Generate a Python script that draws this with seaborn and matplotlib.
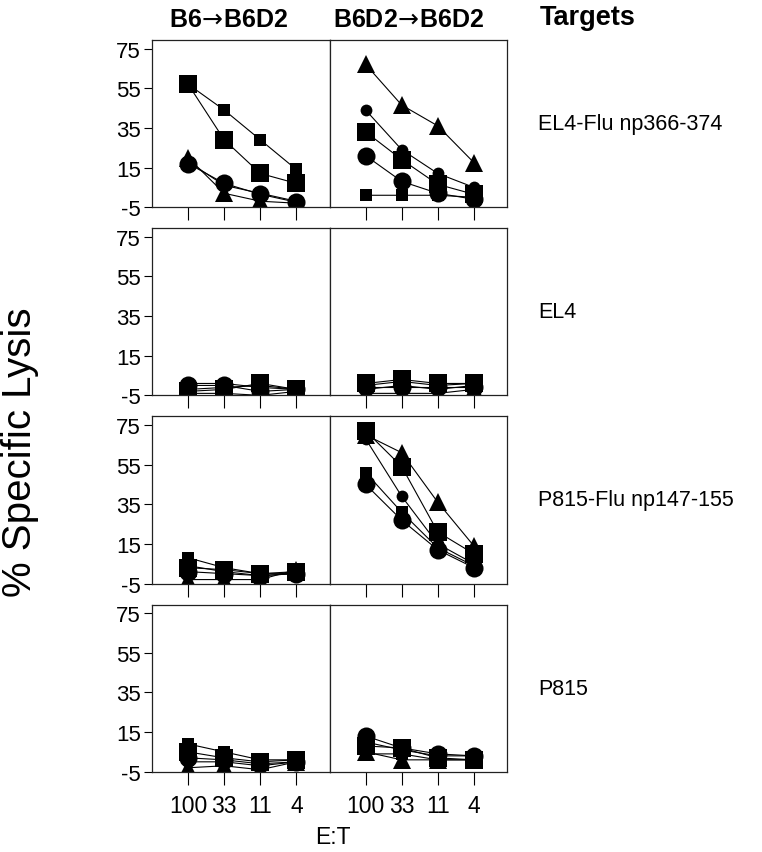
import numpy as np
import pandas as pd
import matplotlib.pyplot as plt
import seaborn as sns

# E:T ratios, donor groups and target cells
et_labels = ['100', '33', '11', '4']
groups = ['B6\u2192B6D2', 'B6D2\u2192B6D2']
targets = ['EL4-Flu np366-374', 'EL4', 'P815-Flu np147-155', 'P815']
series = ['big square', 'small square', 'big circle', 'small circle', 'triangle']

# % specific lysis, rows follow `series`, columns follow et_labels
el4flu_b6 = np.array([[57, 29, 12, 7], [57, 44, 29, 14], [17, 7, 1.5, -2.5],
                      [18, 6, 2, -2], [20, 2, -2, -3]])
el4flu_b6d2 = np.array([[33, 19, 6.5, 1.5], [1, 1, 1, 0], [21, 8, 2, -1],
                        [44, 24, 12, 5], [67, 46.5, 36, 17.5]])
el4_b6 = np.array([[-3, -2, 1, -2], [-2, -1, 0, -2], [0, 0, -3, -2],
                   [1, 1, -1, -2], [-4, -4, -5, -3]])
el4_b6d2 = np.array([[1, 3, 1, 1], [0, 2, 0, 1], [-1, -1, -1, -1],
                     [-2, 0, -2, 0], [-4, -4, -4, -2]])
p815flu_b6 = np.array([[3, 2, 0, 1], [8, 3, 0, 0], [1, 0, -1, 0],
                       [4, 1, -1, 0], [-3, -3, -3, 2]])
p815flu_b6d2 = np.array([[72, 54, 21, 10], [51, 31, 13, 4], [45, 27, 12, 3],
                         [68, 39, 15, 5], [70, 61, 36, 14]])
p815_b6 = np.array([[5, 2, 0, 1], [9, 5, 1, 1], [2, 1, -1, 0],
                    [0, 0, -2, 0], [-3, -2, -4, 0]])
p815_b6d2 = np.array([[8, 7, 2, 1], [4, 4, 1, 1], [13, 7, 4, 3],
                      [10, 6, 3, 3], [5, 1, 1, 1]])

panels = [[el4flu_b6, el4flu_b6d2], [el4_b6, el4_b6d2],
          [p815flu_b6, p815flu_b6d2], [p815_b6, p815_b6d2]]

rows = []
for ti, t in enumerate(targets):
    for gi, g in enumerate(groups):
        for si, s in enumerate(series):
            for ei in range(len(et_labels)):
                rows.append(dict(target=t, group=g, series=s, et=ei,
                                 lysis=panels[ti][gi][si, ei]))
df = pd.DataFrame(rows)

# marker shape / size for each series
marker_style = {
    'big square': ('s', 13),
    'small square': ('s', 9),
    'big circle': ('o', 13),
    'small circle': ('o', 8.5),
    'triangle': ('^', 13),
}

sns.set_style('ticks')
plt.rcParams['font.family'] = ['Liberation Sans', 'DejaVu Sans']
plt.rcParams['axes.unicode_minus'] = False
for key in ['text.color', 'axes.labelcolor', 'xtick.color', 'ytick.color']:
    plt.rcParams[key] = 'black'

fig, axes = plt.subplots(4, 2, figsize=(7.62, 8.53), dpi=100,
                         gridspec_kw=dict(left=0.1995, right=0.6654, top=0.9519,
                                          bottom=0.0941, hspace=0.126, wspace=0))

for ti, t in enumerate(targets):
    for gi, g in enumerate(groups):
        ax = axes[ti, gi]
        sub = df[(df.target == t) & (df.group == g)]
        for s in series:
            m, ms = marker_style[s]
            sns.lineplot(data=sub[sub.series == s], x='et', y='lysis', ax=ax,
                         color='black', lw=0.8, marker=m, markersize=ms,
                         markeredgewidth=0, estimator=None, sort=False, legend=False)
        ax.set_xlim(-1.0, 3.92)
        ax.set_ylim(-5, 79.3)
        ax.set_xticks(range(len(et_labels)))
        ax.set_xticklabels(et_labels)
        ax.set_yticks([-5, 15, 35, 55, 75])
        ax.set_xlabel('')
        ax.set_ylabel('')
        for sp in ax.spines.values():
            sp.set_visible(True)
            sp.set_linewidth(0.9)
            sp.set_color('#222222')
        ax.tick_params(axis='x', direction='out', length=9, width=0.8,
                       labelsize=16.5, pad=7, labelbottom=(ti == 3))
        if gi == 0:
            ax.tick_params(axis='y', direction='out', length=6, width=0.8,
                           labelsize=16, pad=2)
        else:
            ax.tick_params(axis='y', left=False, labelleft=False)

        if gi == 1:
            pos = ax.get_position()
            fig.text(0.706, (pos.y0 + pos.y1) / 2, t, fontsize=15.5,
                     ha='left', va='center')

# column headers (mathtext arrow so it is drawn full size)
headers = [g.replace('\u2192', r'$\!\rightarrow\!$') for g in groups]
fig.text(0.3005, 0.9766, headers[0], fontsize=18, fontweight='bold', ha='center', va='center')
fig.text(0.5367, 0.9766, headers[1], fontsize=18, fontweight='bold', ha='center', va='center')
fig.text(0.7087, 0.979, 'Targets', fontsize=19.5, fontweight='bold', ha='left', va='center')

fig.text(0.026, 0.47, '% Specific Lysis', fontsize=29, rotation=90, ha='center', va='center')
fig.text(0.437, 0.0176, 'E:T', fontsize=16.5, ha='center', va='center')

plt.savefig('out.png', dpi=100)
plt.close()
